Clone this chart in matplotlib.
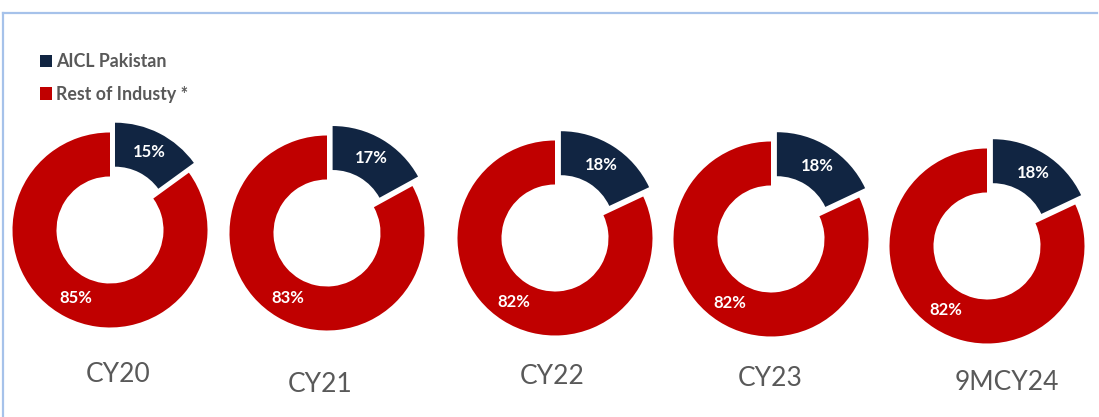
import matplotlib
matplotlib.use("Agg")
import matplotlib.pyplot as plt
from matplotlib.lines import Line2D

# data
categories = ["CY20", "CY21", "CY22", "CY23", "9MCY24"]
aicl_share = [15, 17, 18, 18, 18]
rest_share = [85, 83, 82, 82, 82]
legend_labels = ["AICL Pakistan", "Rest of Industy *"]

# colours
navy = "#112542"
red = "#C00000"
grey = "#595959"

plt.rcParams["font.family"] = ["Lato", "DejaVu Sans"]

W, H = 1099, 417
fig = plt.figure(figsize=(W / 100, H / 100), dpi=100, facecolor="white")
ax = fig.add_axes([0, 0, 1, 1])

# donut centres (pixels from top-left) and label spots, as laid out in the slide
centres = [(110, 230), (327, 233), (555, 238), (771, 239), (987, 246)]
label_pos = [(118, 375), (320, 384), (552, 377), (770, 378), (1007, 383)]
radius = 97.5
ring = 44

wedges_first = None
for i, cat in enumerate(categories):
    cx, cy = centres[i]
    wedges, texts, autotexts = ax.pie(
        [aicl_share[i], rest_share[i]],
        colors=[navy, red],
        explode=[11, 0],
        startangle=90,
        counterclock=False,
        center=(cx, H - cy),
        radius=radius,
        autopct="%d%%",
        pctdistance=0.78,
        wedgeprops=dict(width=ring, linewidth=0),
        textprops=dict(color="white", fontsize=12, fontweight="bold"),
        frame=True,
    )
    if wedges_first is None:
        wedges_first = wedges
    lx, ly = label_pos[i]
    ax.text(lx, H - ly, cat, ha="center", va="center", fontsize=19, color=grey)

ax.set_xlim(0, W)
ax.set_ylim(0, H)
ax.set_aspect("equal")
ax.axis("off")

# legend
leg = fig.legend(wedges_first, legend_labels, loc="upper left",
                 bbox_to_anchor=(40 / W, 1 - 53 / H), frameon=False,
                 borderpad=0, borderaxespad=0, handlelength=0.7, handleheight=0.7,
                 handletextpad=0.2, labelspacing=0.88,
                 prop=dict(size=12.8, weight="bold"))
for t in leg.get_texts():
    t.set_color(grey)

# light blue frame lines at top and left
fig.add_artist(Line2D([3 / W, 1097 / W], [1 - 13 / H, 1 - 13 / H], color="#A6C2EA", lw=1.6))
fig.add_artist(Line2D([3 / W, 3 / W], [1 - 13 / H, 0], color="#A6C2EA", lw=1.6))

fig.savefig("out.png", dpi=100, facecolor="white")
